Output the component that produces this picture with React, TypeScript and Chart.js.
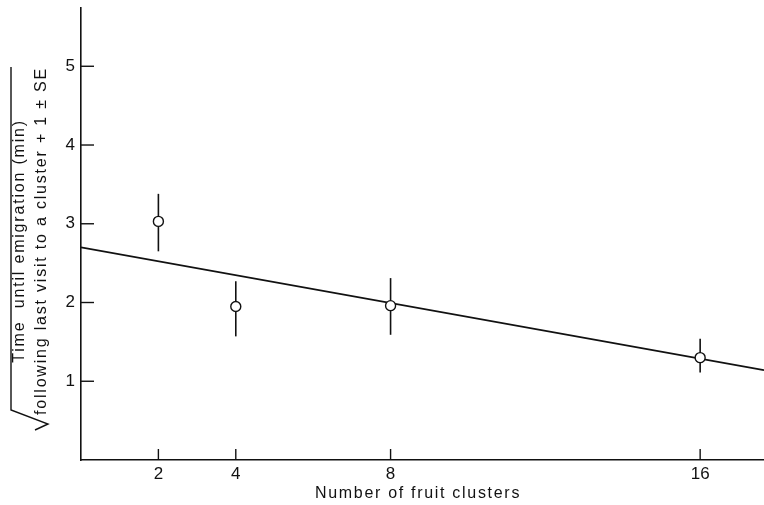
import React, { useEffect, useRef } from "react";
import { Chart, registerables } from "chart.js";

Chart.register(...registerables);

// ---- data ----
const clusters = [2, 4, 8, 16];
const meanTime = [3.03, 1.95, 1.96, 1.3];
const seUpper = [3.38, 2.27, 2.31, 1.54];
const seLower = [2.65, 1.57, 1.59, 1.11];
const fitX = [0, 17.65];
const fitY = [2.7, 1.14];
const xTicks = [2, 4, 8, 16];
const yTicks = [1, 2, 3, 4, 5];
const xTitle = "Number of fruit clusters";
const yTitleLines = [
  "Time  until emigration (min)",
  "following last visit to a cluster + 1 ± SE",
];

const FONT = "'Liberation Sans', Arial, sans-serif";
const INK = "#111";

export default function App() {
  const ref = useRef<HTMLCanvasElement | null>(null);

  useEffect(() => {
    if (!ref.current) return;

    const errorBars = {
      id: "errorBars",
      beforeDatasetsDraw(chart: any) {
        const { ctx, scales } = chart;
        const xs = scales.x;
        const ys = scales.y;
        ctx.save();
        ctx.strokeStyle = INK;
        ctx.lineWidth = 1.6;
        clusters.forEach((c, i) => {
          const px = xs.getPixelForValue(c);
          ctx.beginPath();
          ctx.moveTo(px, ys.getPixelForValue(seLower[i]));
          ctx.lineTo(px, ys.getPixelForValue(seUpper[i]));
          ctx.stroke();
        });
        ctx.restore();
      },
    };

    const inwardTicks = {
      id: "inwardTicks",
      afterDraw(chart: any) {
        const { ctx, scales, chartArea } = chart;
        ctx.save();
        ctx.strokeStyle = INK;
        ctx.lineWidth = 1.4;
        xTicks.forEach((v) => {
          const px = scales.x.getPixelForValue(v);
          ctx.beginPath();
          ctx.moveTo(px, chartArea.bottom);
          ctx.lineTo(px, chartArea.bottom - 11);
          ctx.stroke();
        });
        yTicks.forEach((v) => {
          const py = scales.y.getPixelForValue(v);
          ctx.beginPath();
          ctx.moveTo(chartArea.left, py);
          ctx.lineTo(chartArea.left + 13, py);
          ctx.stroke();
        });
        ctx.restore();
      },
    };

    const titlesPlugin = {
      id: "titles",
      afterDraw(chart: any) {
        const { ctx } = chart;
        // y-axis title (two lines, rotated)
        ctx.save();
        ctx.fillStyle = INK;
        ctx.font = `16px ${FONT}`;
        (ctx as any).letterSpacing = "1.8px";
        ctx.textAlign = "center";
        ctx.textBaseline = "middle";
        ctx.translate(20, 241);
        ctx.rotate(-Math.PI / 2);
        ctx.fillText(yTitleLines[0], 0, 0);
        ctx.fillText(yTitleLines[1], 0, 22);
        ctx.restore();
        // x-axis title
        ctx.save();
        ctx.fillStyle = INK;
        ctx.font = `16px ${FONT}`;
        (ctx as any).letterSpacing = "1.7px";
        ctx.textAlign = "center";
        ctx.textBaseline = "middle";
        ctx.fillText(xTitle, 418, 494);
        ctx.restore();
        // square-root sign around the y title
        ctx.save();
        ctx.strokeStyle = INK;
        ctx.lineWidth = 1.4;
        ctx.beginPath();
        ctx.moveTo(11, 67);
        ctx.lineTo(11, 410);
        ctx.lineTo(48, 424);
        ctx.lineTo(35, 430);
        ctx.stroke();
        ctx.restore();
      },
    };

    const chart = new Chart(ref.current, {
      type: "scatter",
      data: {
        datasets: [
          {
            label: "mean",
            data: clusters.map((c, i) => ({ x: c, y: meanTime[i] })),
            pointRadius: 5,
            pointHoverRadius: 5,
            pointBackgroundColor: "#fff",
            pointBorderColor: INK,
            pointBorderWidth: 1.4,
            showLine: false,
            order: 0,
          },
          {
            label: "fit",
            data: fitX.map((x, i) => ({ x, y: fitY[i] })),
            showLine: true,
            borderColor: INK,
            borderWidth: 1.8,
            pointRadius: 0,
            fill: false,
            order: 1,
          },
        ],
      },
      options: {
        animation: false,
        responsive: true,
        maintainAspectRatio: false,
        layout: { autoPadding: false, padding: { top: 8, right: 0, left: 0, bottom: 0 } },
        plugins: {
          legend: { display: false },
          tooltip: { enabled: false },
        },
        scales: {
          x: {
            type: "linear",
            min: 0,
            max: 17.65,
            afterBuildTicks: (s: any) => {
              s.ticks = xTicks.map((v) => ({ value: v }));
            },
            afterFit: (s: any) => {
              s.height = 45;
              s.paddingLeft = 0;
              s.paddingRight = 0;
            },
            grid: { drawOnChartArea: false, drawTicks: false },
            border: { display: true, color: INK, width: 1.6 },
            ticks: {
              color: INK,
              font: { family: FONT, size: 17 },
              padding: 4,
              maxRotation: 0,
              callback: (v: any) => String(v),
            },
          },
          y: {
            type: "linear",
            min: 0,
            max: 5.74,
            afterBuildTicks: (s: any) => {
              s.ticks = yTicks.map((v) => ({ value: v }));
            },
            afterFit: (s: any) => {
              s.width = 81;
              s.paddingTop = 0;
              s.paddingBottom = 0;
            },
            grid: { drawOnChartArea: false, drawTicks: false },
            border: { display: true, color: INK, width: 1.6 },
            ticks: {
              color: INK,
              font: { family: FONT, size: 17 },
              padding: 6,
              callback: (v: any) => String(v),
            },
          },
        },
      },
      plugins: [errorBars, inwardTicks, titlesPlugin],
    });

    return () => chart.destroy();
  }, []);

  return (
    <div style={{ position: "absolute", left: 0, top: 0, width: 764, height: 505, background: "#fff" }}>
      <canvas ref={ref} />
    </div>
  );
}
